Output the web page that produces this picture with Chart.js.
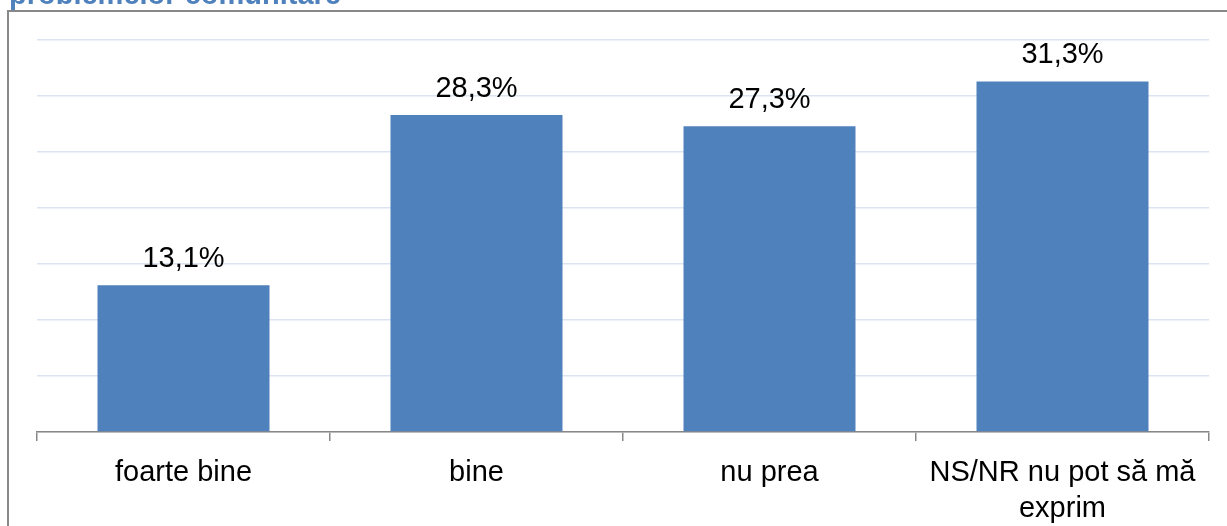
<!DOCTYPE html>
<html>
<head>
<meta charset="utf-8">
<script src="https://cdn.jsdelivr.net/npm/chart.js@4"></script>
<style>
  html, body { margin: 0; padding: 0; background: #fff; overflow: hidden; }
  #frame {
    position: absolute; left: 7px; top: 10px; width: 1240px; height: 540px;
    border-left: 2px solid #888; border-top: 2px solid #888;
  }
  #wrap { position: absolute; left: 0; top: 0; width: 1227px; height: 526px; }
  #chart { display: block; width: 1227px; height: 526px; }
</style>
</head>
<body>
<div id="frame"></div>
<div id="wrap"><canvas id="chart" width="1227" height="526"></canvas></div>
<script>
const titleText = 'problemelor comunitare';
const categories = ['foarte bine', 'bine', 'nu prea', ['NS/NR nu pot să mă', 'exprim']];
const values = [13.1, 28.3, 27.3, 31.3];

const FONT = "'Liberation Sans', Arial, sans-serif";

// titlul taiat de sus, desenat deasupra ramei
const cutTitle = {
  id: 'cutTitle',
  afterDraw(chart) {
    const ctx = chart.ctx;
    ctx.save();
    ctx.font = 'bold 29px ' + FONT;
    ctx.fillStyle = '#4f81bd';
    ctx.textBaseline = 'alphabetic';
    ctx.textAlign = 'left';
    ctx.fillText(titleText, 9, 4);
    ctx.restore();
  }
};

// etichete cu valori deasupra barelor
const valueLabels = {
  id: 'valueLabels',
  afterDatasetsDraw(chart) {
    const ctx = chart.ctx;
    const meta = chart.getDatasetMeta(0);
    ctx.save();
    ctx.font = '29px ' + FONT;
    ctx.fillStyle = '#000';
    ctx.textAlign = 'center';
    ctx.textBaseline = 'alphabetic';
    meta.data.forEach((bar, i) => {
      const txt = values[i].toFixed(1).replace('.', ',') + '%';
      ctx.fillText(txt, bar.x, bar.y - 18);
    });
    ctx.restore();
  }
};

new Chart(document.getElementById('chart'), {
  type: 'bar',
  data: {
    labels: categories,
    datasets: [{
      data: values,
      backgroundColor: '#4f81bd',
      borderWidth: 0,
      barPercentage: 0.587,
      categoryPercentage: 1
    }]
  },
  options: {
    responsive: false,
    maintainAspectRatio: false,
    animation: false,
    devicePixelRatio: 1,
    layout: { padding: { left: 37, right: 18, top: 40, bottom: 0 } },
    plugins: {
      legend: { display: false },
      tooltip: { enabled: false },
      title: { display: false }
    },
    scales: {
      x: {
        offset: true,
        grid: {
          offset: true,
          drawOnChartArea: false,
          drawTicks: true,
          tickLength: 9,
          color: '#888',
          lineWidth: 1.5
        },
        border: { display: true, color: '#888', width: 1.5 },
        ticks: {
          color: '#000',
          font: { family: FONT, size: 29, lineHeight: 1.25 },
          padding: 14,
          maxRotation: 0,
          autoSkip: false
        },
        afterFit(scale) { scale.height = 94; }
      },
      y: {
        min: 0,
        max: 35,
        ticks: { display: false, stepSize: 5 },
        grid: { color: '#dbe5f1', lineWidth: 1.5, drawTicks: false },
        border: { display: false },
        afterFit(scale) { scale.width = 0; }
      }
    }
  },
  plugins: [valueLabels, cutTitle]
});
</script>
</body>
</html>
